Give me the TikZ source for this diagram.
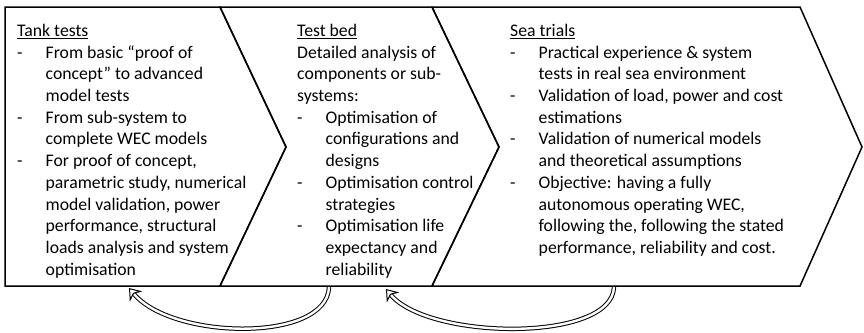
\documentclass[tikz,border=0pt]{standalone}
\usepackage{fontspec}
\setmainfont{Carlito}
\usetikzlibrary{arrows.meta}

\newcommand{\bul}[1]{\makebox[28.5pt][l]{-}#1}
\newcommand{\cnt}[1]{\hspace*{28.5pt}#1}

\begin{document}
\begin{tikzpicture}[x=1pt,y=-1pt]
\tikzset{chev/.style={draw=black, line width=1.5pt},
 txt/.style={anchor=north west, inner sep=0pt, align=left, font=\fontsize{17.7}{21.7}\selectfont},
 back/.style={double=white, double distance=2.4pt, line width=1pt, -{Stealth[open, length=11pt, width=16pt, inset=3.5pt]}}}
\useasboundingbox (0,0) rectangle (864,332);

\draw[chev] (5,7) -- (220,7) -- (286,147) -- (220,286) -- (5,286) -- cycle;
\draw[chev] (220,7) -- (432,7) -- (499,147) -- (432,286) -- (220,286) -- (286,147) -- cycle;
\draw[chev] (432,7) -- (800,7) -- (862,147) -- (800,286) -- (432,286) -- (499,147) -- cycle;

\node[txt] (tank) at (17,24) {\underline{Tank tests}\\
 \bul{From basic “proof of}\\
 \cnt{concept” to advanced}\\
 \cnt{model tests}\\
 \bul{From sub-system to}\\
 \cnt{complete WEC models}\\
 \bul{For proof of concept,}\\
 \cnt{parametric study, numerical}\\
 \cnt{model validation, power}\\
 \cnt{performance, structural}\\
 \cnt{loads analysis and system}\\
 \cnt{optimisation}};
\node[txt] (bed) at (297,24) {\underline{Test bed}\\
 Detailed analysis of\\
 components or sub-\\
 systems:\\
 \bul{Optimisation of}\\
 \cnt{configurations and}\\
 \cnt{designs}\\
 \bul{Optimisation control}\\
 \cnt{strategies}\\
 \bul{Optimisation life}\\
 \cnt{expectancy and}\\
 \cnt{reliability}};
\node[txt] (sea) at (510,24) {\underline{Sea trials}\\
 \bul{Practical experience \& system}\\
 \cnt{tests in real sea environment}\\
 \bul{Validation of load, power and cost}\\
 \cnt{estimations}\\
 \bul{Validation of numerical models}\\
 \cnt{and theoretical assumptions}\\
 \bul{Objective: having a fully}\\
 \cnt{autonomous operating WEC,}\\
 \cnt{following the, following the stated}\\
 \cnt{performance, reliability and cost.}};

\coordinate (bedout) at (329,287);
\coordinate (tankin) at (129,288);
\coordinate (seaout) at (614,287);
\coordinate (bedin) at (386,289);

\draw[back] (bedout) .. controls (327,343) and (172,340) .. (tankin);
\draw[back] (seaout) .. controls (612,343) and (428,340) .. (bedin);
\end{tikzpicture}
\end{document}
